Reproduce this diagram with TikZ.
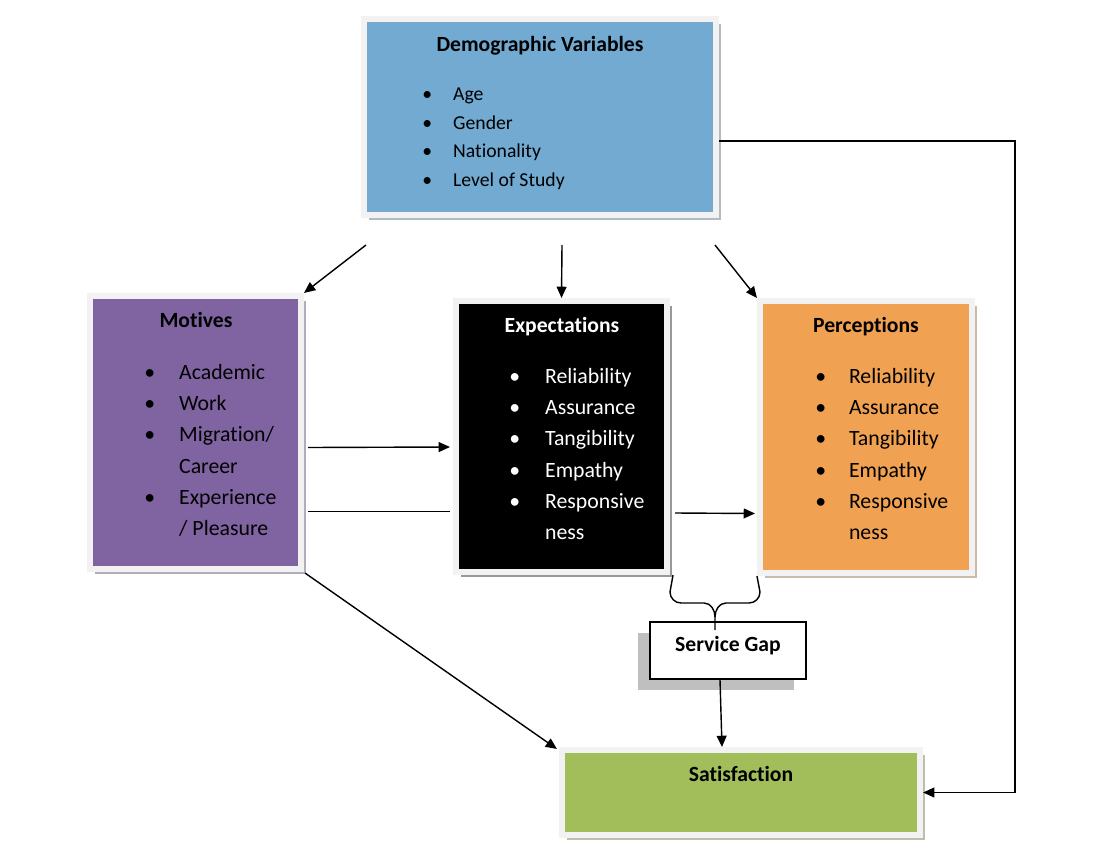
\documentclass[tikz,border=0pt]{standalone}
\usepackage{fontspec}
\setmainfont{Carlito}[Ligatures={NoCommon,NoContextual}]
\usetikzlibrary{arrows.meta,calc,shadows}
\definecolor{demoblue}{RGB}{114,170,210}
\definecolor{motpurple}{RGB}{128,100,162}
\definecolor{perorange}{RGB}{241,161,82}
\definecolor{satgreen}{RGB}{161,190,90}
\definecolor{boxframe}{RGB}{242,242,242}
\tikzset{
	box/.style={fill=#1, draw=boxframe, line width=0.15cm, inner sep=0pt,
		general shadow={fill=#1!35!gray!60!white, shadow xshift=0.13cm, shadow yshift=-0.13cm}},
	head/.style={anchor=base, inner sep=0pt, font=\fontsize{15.4}{18}\selectfont\bfseries},
	items/.style={anchor=base west, inner sep=0pt, font=\fontsize{15.5}{22.3}\selectfont},
	arr/.style={line width=1pt, -{Triangle[length=8pt,width=7pt]}},
	ln/.style={line width=1pt},
}

\begin{document}
\begin{tikzpicture}[x=0.025cm,y=-0.025cm]
	\useasboundingbox (0,0) rectangle (1093,842);
	\node[box=demoblue, minimum width=8.8cm, minimum height=4.9cm] (demo) at (540,117) {};
	\node[box=motpurple, minimum width=5.275cm, minimum height=6.825cm] (mot) at (195.5,432.5) {};
	\node[box=black, minimum width=5.275cm, minimum height=6.775cm] (exp) at (561.5,436.5) {};
	\node[box=perorange, minimum width=5.3cm, minimum height=6.8cm] (per) at (866,437) {};
	\node[box=satgreen, minimum width=8.95cm, minimum height=2.125cm] (sat) at (741,792.5) {};
	\node[draw, fill=white, line width=1pt, minimum width=3.9cm, minimum height=1.425cm,
		general shadow={fill=gray!50, shadow xshift=-0.3cm, shadow yshift=-0.28cm}] (gap) at (728,650.5) {};

	\node[head] (demoT) at (540,51) {Demographic Variables};
	\node[items, font=\fontsize{14}{20.3}\selectfont] (demoL) at (422,100.5) {\begin{tabular}[t]{@{}p{22pt}@{}l@{}}
		\textbullet & Age\\
		\textbullet & Gender\\
		\textbullet & Nationality\\
		\textbullet & Level of Study
	\end{tabular}};

	\node[head] (motT) at (196,327) {Motives};
	\node[items] (motL) at (144,379) {\begin{tabular}[t]{@{}p{24.8pt}@{}l@{}}
		\textbullet & Academic\\
		\textbullet & Work\\
		\textbullet & Migration/\\
		 & Career\\
		\textbullet & Experience\\
		 & / Pleasure
	\end{tabular}};

	\node[head, text=white] (expT) at (562,332) {Expectations};
	\node[items, text=white] (expL) at (509,383) {\begin{tabular}[t]{@{}p{25.5pt}@{}l@{}}
		\textbullet & Reliability\\
		\textbullet & Assurance\\
		\textbullet & Tangibility\\
		\textbullet & Empathy\\
		\textbullet & Responsive\\
		 & ness
	\end{tabular}};

	\node[head] (perT) at (866,332) {Perceptions};
	\node[items] (perL) at (815,383) {\begin{tabular}[t]{@{}p{24pt}@{}l@{}}
		\textbullet & Reliability\\
		\textbullet & Assurance\\
		\textbullet & Tangibility\\
		\textbullet & Empathy\\
		\textbullet & Responsive\\
		 & ness
	\end{tabular}};

	\node[head] (gapT) at (728,651) {Service Gap};
	\node[head] (satT) at (741,781) {Satisfaction};

	\coordinate (d1) at (366,245);
	\coordinate (d2) at (562,245);
	\coordinate (d3) at (715,245);
	\draw[arr] (d1) -- (mot.north east);
	\draw[arr] (d2) -- (exp.north);
	\draw[arr] (d3) -- (per.north west);
	\draw[arr] ($(demo.east)+(0,24)$) -| ($(sat.east)+(92,0)$) -- (sat.east);

	\draw[arr] ($(mot.east)+(4,15)$) -- ($(exp.west)+(-3,10.5)$);
	\draw[ln] ($(mot.east)+(4,79)$) -- ($(exp.west)+(-3,75)$);
	\draw[arr] ($(exp.east)+(5,76.5)$) -- ($(per.west)+(-2,76.5)$);
	\draw[arr] ($(mot.south east)+(1,1)$) -- ($(sat.north west)+(-2,2)$);
	\draw[arr] ($(gap.south)+(-8,0)$) -- ($(sat.north)+(-19,0)$);

	\draw[ln] ($(exp.south east)+(3,0)$) -- (670,592) to[out=-90,in=180] (681,603) -- (704,603) to[out=0,in=90] (715,617) -- (715,630);
	\draw[ln] (per.south west) -- (760,592) to[out=-90,in=0] (749,603) -- (726,603) to[out=180,in=90] (715,617);
\end{tikzpicture}
\end{document}
